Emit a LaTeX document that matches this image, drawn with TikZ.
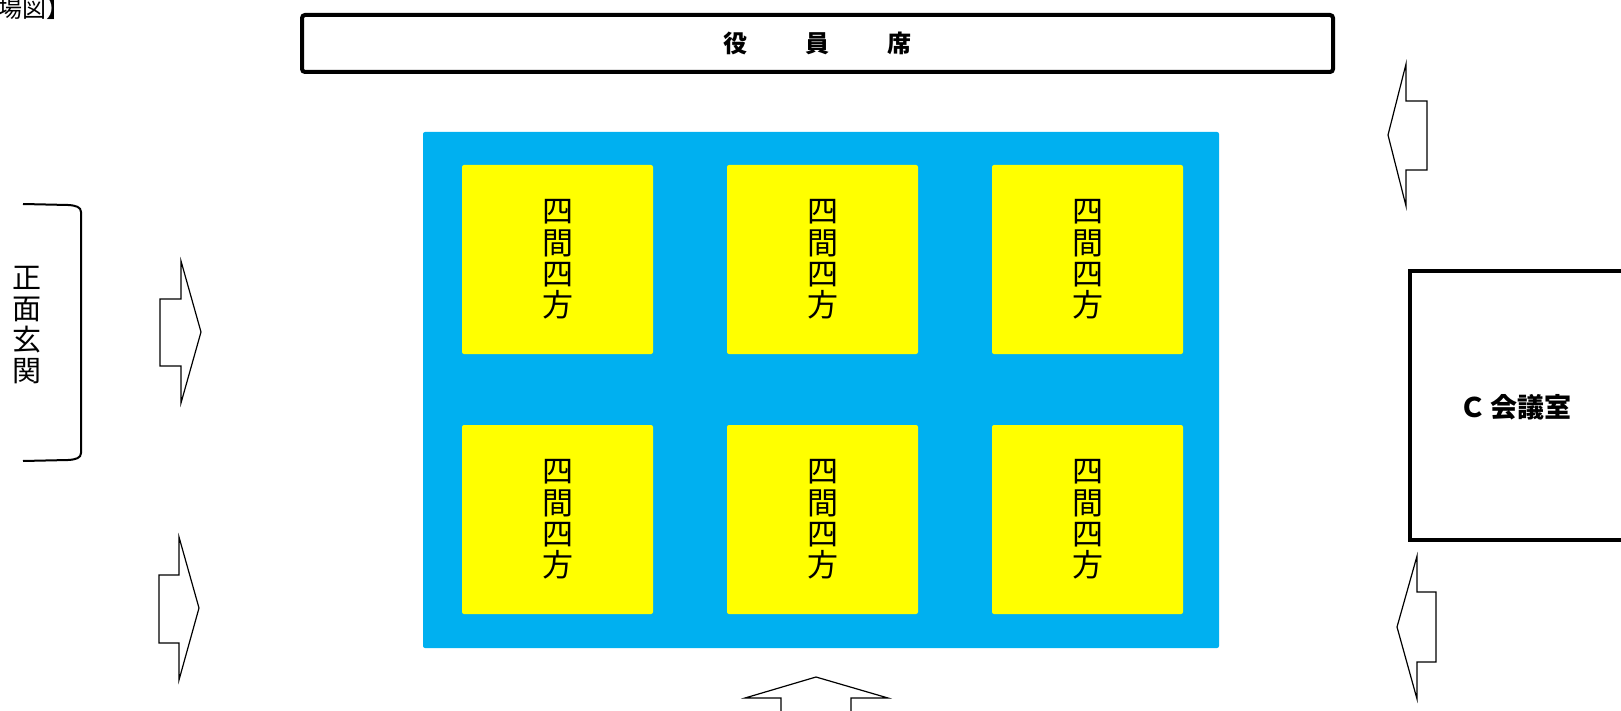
\documentclass[tikz,border=0pt]{standalone}
\usepackage{fontspec}
\setmainfont{Noto Sans CJK JP}
\definecolor{matblue}{HTML}{00B0F0}
\definecolor{matyellow}{HTML}{FFFF00}
\begin{document}
\begin{tikzpicture}[x=0.5pt,y=-0.5pt,
  ybox/.style={fill=matyellow, rounded corners=1pt, minimum width=95.5pt, minimum height=94.5pt, inner sep=0pt, align=center, font=\fontsize{15.5pt}{15.7pt}\selectfont},
  vtext/.style={inner sep=0pt, align=center, font=\fontsize{14.5pt}{15.5pt}\selectfont},
  thickbox/.style={draw=black, line width=2pt},
  arrowshape/.style={draw=black, line width=0.6pt, fill=white, line join=miter}
]
\useasboundingbox (0,0) rectangle (1621,711);
% title fragment
\node[anchor=base west, inner sep=0pt, font=\fontsize{12pt}{12pt}\selectfont] (title) at (-2,18) {場図】};
% officials' table
\node[thickbox, rounded corners=1.5pt, minimum width=515.5pt, minimum height=28.5pt, inner sep=0pt,
      font=\fontsize{12pt}{12pt}\selectfont\bfseries] (yakuin) at (817.5,43.5) {役\hspace{29pt}員\hspace{29pt}席};
% blue floor
\fill[matblue, rounded corners=1pt] (423,132) rectangle (1219,648);
% yellow courts
\node[ybox] (c11) at (557.5,259.5) {四\\間\\四\\方};
\node[ybox] (c12) at (822.5,259.5) {四\\間\\四\\方};
\node[ybox] (c13) at (1087.5,259.5) {四\\間\\四\\方};
\node[ybox] (c21) at (557.5,519.5) {四\\間\\四\\方};
\node[ybox] (c22) at (822.5,519.5) {四\\間\\四\\方};
\node[ybox] (c23) at (1087.5,519.5) {四\\間\\四\\方};
% front entrance bracket
\draw[line width=1pt] (23,204) -- (68,205) .. controls (76,205.5) and (81,207) .. (81,212)
  -- (81,453) .. controls (81,458) and (76,459.5) .. (68,460) -- (23,461);
\node[vtext] (entrance) at (27,325) {正\\面\\玄\\関};
% left arrows (pointing right)
\draw[arrowshape] (160,299) -- (181,299) -- (181,261) -- (201,332) -- (181,403) -- (181,366) -- (160,366) -- cycle;
\draw[arrowshape] (159,575) -- (179,575) -- (179,537) -- (199,608) -- (179,680) -- (179,643) -- (159,643) -- cycle;
% right arrows (pointing left)
\draw[arrowshape] (1427,101) -- (1406,101) -- (1406,64) -- (1388,135) -- (1406,206) -- (1406,170) -- (1427,170) -- cycle;
\draw[arrowshape] (1436,592) -- (1417,592) -- (1417,556) -- (1397,627) -- (1417,699) -- (1417,662) -- (1436,662) -- cycle;
% bottom arrow (pointing up)
\draw[arrowshape] (781,720) -- (781,698) -- (745,698) -- (816,677) -- (888,698) -- (851,698) -- (851,720);
% C meeting room
\draw[thickbox, line join=miter] (1640,271) -- (1410,271) -- (1410,540) -- (1640,540);
\node[inner sep=0pt, font=\fontsize{13.5pt}{13.5pt}\selectfont\bfseries] (roomC) at (1515,407) {Ｃ\hspace{2pt}会議室};
\end{tikzpicture}
\end{document}
